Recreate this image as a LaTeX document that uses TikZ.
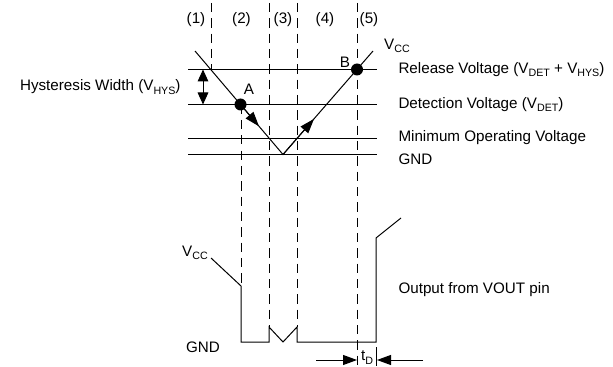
\documentclass[tikz,border=0pt]{standalone}
\usepackage{fontspec}
\setmainfont{Liberation Sans}
\usetikzlibrary{arrows.meta, positioning}
\newcommand{\lowsub}[1]{\raisebox{-0.45ex}{\fontsize{8}{9}\selectfont #1}}

\begin{document}
\begin{tikzpicture}[x=0.75pt, y=-0.75pt, line width=0.75pt,
    phase/.style={dash pattern=on 7pt off 4.5pt},
    headarrow/.style={-{Triangle[length=11pt,width=7.5pt]}},
    lbl/.style={font=\fontsize{11.4}{13}\selectfont, inner sep=0pt},
    ptdot/.style={circle, fill, inner sep=0pt, minimum size=9pt}]
    \useasboundingbox (0,0) rectangle (613,367);
    % Phase boundaries
    \foreach \x/\yhigh/\ylow in {211/3/69.5, 241/104.5/286, 269/3/327, 297/3/327, 357/3/367} {
        \draw[phase] (\x,\yhigh) -- (\x,\ylow);
    }
    \foreach \x/\t in {196/1, 241.5/2, 283/3, 325/4, 369/5} {
        \node[lbl] (ph\t) at (\x,20) {(\t)};
    }
    % Voltage levels
    \foreach \y in {69.5, 104.5, 139, 154.5} {
        \draw (188,\y) -- (377,\y);
    }
    \node[lbl, anchor=west] (relT) at (398,69.5) {Release Voltage (V\lowsub{DET} + V\lowsub{HYS})};
    \node[lbl, anchor=west] (detT) at (398,104.5) {Detection Voltage (V\lowsub{DET})};
    \node[lbl, anchor=west] (minT) at (398,138) {Minimum Operating Voltage};
    \node[lbl, anchor=west] (gndT) at (398,159.5) {GND};
    % Hysteresis width
    \coordinate (hysTop) at (203,69.5);
    \coordinate (hysBot) at (203,104.5);
    \draw[{Triangle[length=9pt,width=8pt]}-{Triangle[length=9pt,width=8pt]}] (hysTop) -- (hysBot);
    \node[lbl, anchor=east] (hysT) at (181,87) {Hysteresis Width (V\lowsub{HYS})};
    % Supply voltage
    \coordinate (vtop) at (195,51);
    \coordinate (vlow) at (283,154.5);
    \coordinate (vhigh) at (373,51);
    \coordinate (downtip) at (259,126.3);
    \coordinate (uptip) at (314,118.9);
    \draw (vtop) -- (vlow) -- (vhigh);
    \node[ptdot] (dotA) at (240.5,104.5) {};
    \node[ptdot] (dotB) at (357,69.5) {};
    \draw[headarrow] (dotA) -- (downtip);
    \draw[headarrow] (vlow) -- (uptip);
    \node[lbl] (labA) at (249,89) {A};
    \node[lbl] (labB) at (345,62) {B};
    \node[lbl] (vccT) at (397,46) {V\lowsub{CC}};
    % Output waveform
    \node[lbl] (vccO) at (195,253) {V\lowsub{CC}};
    \node[lbl] (gndO) at (203,347) {GND};
    \coordinate (outStart) at (211,258);
    \draw (outStart) -- (241,286) -- (241,342) -- (269,342) -- (269,327)
        -- (283,342) -- (297,327) -- (297,342) -- (376,342) -- (376,238) -- (401,218);
    \node[lbl, anchor=west] (outT) at (398,290) {Output from VOUT pin};
    % Delay time
    \coordinate (delL) at (316,360);
    \coordinate (delLtip) at (357,360);
    \coordinate (delR) at (423,360);
    \coordinate (delRtip) at (377,360);
    \draw (376,347) -- (376,366);
    \draw[-{Triangle[length=10.5pt,width=7.5pt]}] (delL) -- (delLtip);
    \draw[-{Triangle[length=10.5pt,width=7.5pt]}] (delR) -- (delRtip);
    \node[lbl] (tdT) at (367,357.5) {t\lowsub{D}};
\end{tikzpicture}
\end{document}
